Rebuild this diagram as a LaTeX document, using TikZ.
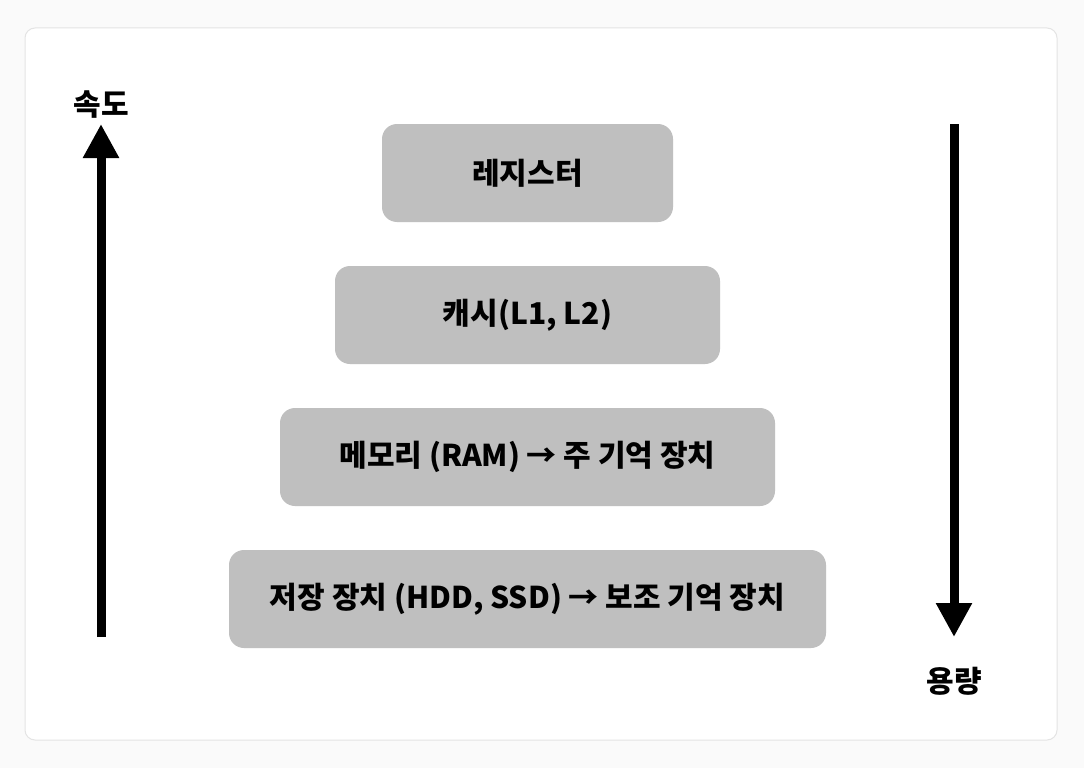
\documentclass[tikz,border=0pt]{standalone}
\usepackage{fontspec}
\usepackage{xcolor}
\usepackage{tikz}
\usetikzlibrary{arrows.meta,positioning}
\newfontfamily\krfont{Noto Sans CJK KR}
\definecolor{LevelGray}{HTML}{BFBFBF}
\definecolor{CardEdge}{HTML}{E4E4E4}
\definecolor{PageBack}{HTML}{FAFAFA}

\begin{document}
\begin{tikzpicture}[
    x=1pt, y=-1pt,
    font=\krfont\bfseries\fontsize{30}{34}\selectfont,
    level/.style={rounded corners=15pt, fill=LevelGray, minimum height=98pt, inner sep=0pt},
    axislabel/.style={inner sep=0pt},
    axis/.style={-{Triangle[length=34pt, width=34pt]}, line width=9pt},
  ]
    % ---- 배경 ----
    \fill[PageBack] (0,0) rectangle (1084,768);
    \useasboundingbox (0,0) rectangle (1084,768);
    \filldraw[fill=white, draw=CardEdge, line width=1pt, rounded corners=10pt] (25,28) rectangle (1057,740);

    % ---- 계층 ----
    \node[level, minimum width=291pt] (reg) at (527.5,173) {레지스터};
    \node[level, minimum width=385pt] (cache) at (527.5,315) {캐시(L1, L2)};
    \node[level, minimum width=495pt] (ram) at (527.5,457) {메모리 (RAM) → 주 기억 장치};
    \node[level, minimum width=597pt] (disk) at (527.5,599) {저장 장치 (HDD, SSD) → 보조 기억 장치};

    % ---- 축 ----
    \coordinate (speedlo) at (101,637);
    \coordinate (speedhi) at (101,124);
    \coordinate (caphi) at (954,124);
    \coordinate (caplo) at (954,637);
    \node[axislabel] (speed) at (101,105) {속도};
    \node[axislabel] (capacity) at (954,681) {용량};

    \draw[axis] (speedlo) -- (speedhi);
    \draw[axis] (caphi) -- (caplo);
  \end{tikzpicture}
\end{document}
